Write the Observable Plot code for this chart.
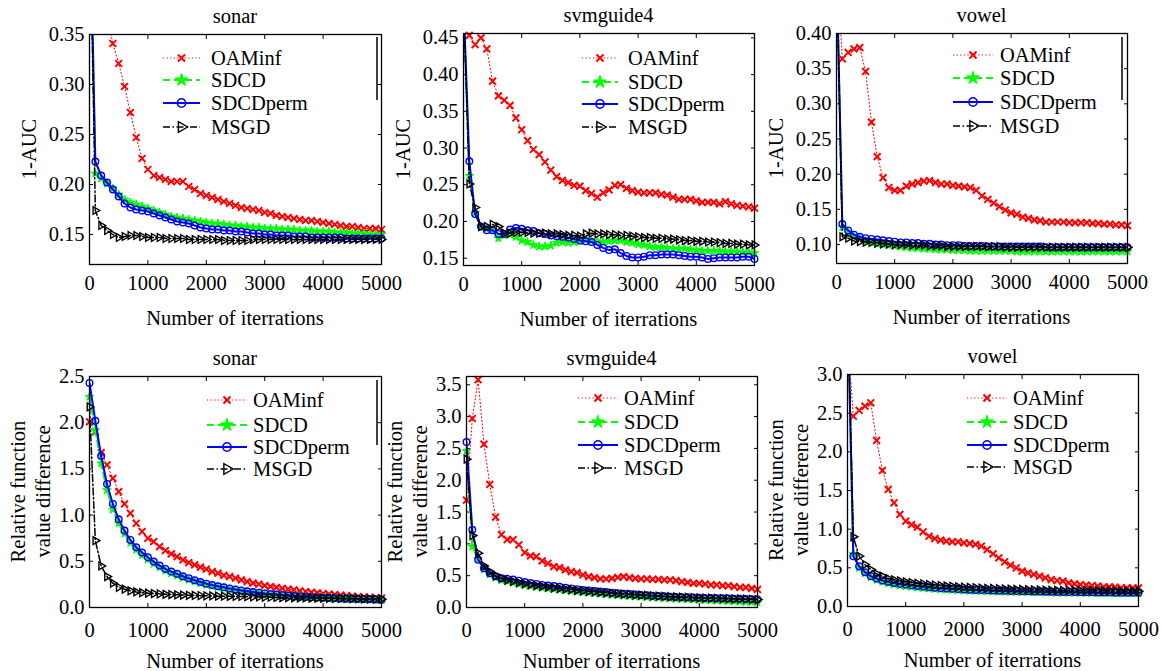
<!DOCTYPE html>
<html>
<head>
<meta charset="utf-8">
<script src="https://cdn.jsdelivr.net/npm/d3@7"></script>
<script src="https://cdn.jsdelivr.net/npm/@observablehq/plot@0.6"></script>
<style>
  html, body { margin: 0; padding: 0; background: #ffffff; }
  #root { position: relative; width: 1161px; height: 671px; overflow: hidden; background: #ffffff; }
</style>
</head>
<body>
<div id="root"></div>
<script>
// ---------------- data ----------------
const iterations = [0, 100, 200, 300, 400, 500, 600, 700, 800, 900, 1000,
  1100, 1200, 1300, 1400, 1500, 1600, 1700, 1800, 1900, 2000,
  2100, 2200, 2300, 2400, 2500, 2600, 2700, 2800, 2900, 3000,
  3100, 3200, 3300, 3400, 3500, 3600, 3700, 3800, 3900, 4000,
  4100, 4200, 4300, 4400, 4500, 4600, 4700, 4800, 4900, 5000];

const seriesNames = ["OAMinf", "SDCD", "SDCDperm", "MSGD"];
const panelTitles = ["sonar", "svmguide4", "vowel", "sonar", "svmguide4", "vowel"];
const yLabelTop = ["1-AUC"];
const yLabelBottom = ["Relative function", "value difference"];
const xLabel = "Number of iterrations";
const xTicks = [0, 1000, 2000, 3000, 4000, 5000];
const yTicksSonarAuc = [0.15, 0.20, 0.25, 0.30, 0.35];
const yTicksSvmAuc = [0.15, 0.20, 0.25, 0.30, 0.35, 0.40, 0.45];
const yTicksVowelAuc = [0.10, 0.15, 0.20, 0.25, 0.30, 0.35, 0.40];
const yTicksSonarRel = [0, 0.5, 1.0, 1.5, 2.0, 2.5];
const yTicksSvmRel = [0, 0.5, 1.0, 1.5, 2.0, 2.5, 3.0, 3.5];
const yTicksVowelRel = [0, 0.5, 1.0, 1.5, 2.0, 2.5, 3.0];

// sonar, 1-AUC
const sonarAucOAMinf = [0.50, 0.45, 0.40, 0.37, 0.341, 0.321, 0.298, 0.272, 0.247, 0.226, 0.215,
  0.209, 0.207, 0.205, 0.203, 0.203, 0.203, 0.198, 0.195, 0.191, 0.189,
  0.187, 0.185, 0.183, 0.181, 0.179, 0.177, 0.176, 0.175, 0.174, 0.172,
  0.171, 0.169, 0.168, 0.167, 0.166, 0.165, 0.164, 0.164, 0.163, 0.162,
  0.161, 0.160, 0.159, 0.158, 0.158, 0.157, 0.156, 0.156, 0.156, 0.155];
const sonarAucSDCD = [0.50, 0.211, 0.206, 0.201, 0.196, 0.190, 0.185, 0.182, 0.180, 0.178, 0.176,
  0.174, 0.172, 0.170, 0.168, 0.167, 0.166, 0.165, 0.164, 0.163, 0.162,
  0.161, 0.161, 0.160, 0.159, 0.159, 0.158, 0.158, 0.157, 0.157, 0.156,
  0.156, 0.156, 0.155, 0.155, 0.155, 0.154, 0.154, 0.154, 0.153, 0.153,
  0.153, 0.152, 0.152, 0.152, 0.151, 0.151, 0.151, 0.150, 0.150, 0.150];
const sonarAucSDCDperm = [0.50, 0.223, 0.209, 0.202, 0.195, 0.188, 0.181, 0.177, 0.175, 0.174, 0.173,
  0.171, 0.169, 0.167, 0.165, 0.163, 0.162, 0.161, 0.159, 0.157, 0.156,
  0.155, 0.155, 0.154, 0.154, 0.153, 0.153, 0.152, 0.151, 0.151, 0.150,
  0.150, 0.149, 0.149, 0.149, 0.148, 0.148, 0.148, 0.147, 0.147, 0.147,
  0.147, 0.147, 0.147, 0.146, 0.146, 0.146, 0.146, 0.146, 0.146, 0.146];
const sonarAucMSGD = [0.50, 0.174, 0.159, 0.154, 0.150, 0.147, 0.148, 0.149, 0.149, 0.148, 0.147,
  0.147, 0.147, 0.146, 0.146, 0.146, 0.146, 0.145, 0.145, 0.145, 0.145,
  0.145, 0.145, 0.144, 0.144, 0.144, 0.144, 0.144, 0.145, 0.145, 0.145,
  0.145, 0.145, 0.145, 0.145, 0.145, 0.145, 0.145, 0.145, 0.145, 0.145,
  0.145, 0.145, 0.145, 0.145, 0.145, 0.145, 0.145, 0.145, 0.145, 0.145];

// svmguide4, 1-AUC
const svmAucOAMinf = [0.50, 0.4535, 0.441, 0.450, 0.435, 0.391, 0.371, 0.365, 0.358, 0.341, 0.325,
  0.310, 0.298, 0.291, 0.281, 0.270, 0.261, 0.256, 0.253, 0.249, 0.248,
  0.242, 0.238, 0.233, 0.239, 0.243, 0.249, 0.250, 0.245, 0.242, 0.240,
  0.239, 0.239, 0.239, 0.237, 0.236, 0.233, 0.230, 0.230, 0.230, 0.228,
  0.226, 0.226, 0.226, 0.224, 0.227, 0.224, 0.222, 0.221, 0.220, 0.218];
const svmAucSDCD = [0.50, 0.262, 0.212, 0.193, 0.190, 0.188, 0.177, 0.181, 0.182, 0.179, 0.174,
  0.172, 0.168, 0.166, 0.166, 0.167, 0.171, 0.172, 0.171, 0.172, 0.173,
  0.175, 0.174, 0.173, 0.172, 0.173, 0.174, 0.174, 0.172, 0.171, 0.169,
  0.168, 0.166, 0.165, 0.165, 0.164, 0.163, 0.163, 0.163, 0.162, 0.161,
  0.160, 0.160, 0.160, 0.160, 0.159, 0.159, 0.159, 0.158, 0.158, 0.157];
const svmAucSDCDperm = [0.50, 0.282, 0.210, 0.193, 0.188, 0.188, 0.183, 0.183, 0.189, 0.191, 0.190,
  0.188, 0.187, 0.184, 0.183, 0.181, 0.180, 0.179, 0.178, 0.176, 0.174,
  0.173, 0.172, 0.168, 0.164, 0.161, 0.162, 0.157, 0.153, 0.151, 0.151,
  0.152, 0.154, 0.154, 0.155, 0.155, 0.155, 0.154, 0.153, 0.152, 0.152,
  0.151, 0.149, 0.150, 0.151, 0.151, 0.151, 0.151, 0.152, 0.152, 0.149];
const svmAucMSGD = [0.50, 0.251, 0.219, 0.193, 0.193, 0.196, 0.193, 0.184, 0.184, 0.185, 0.185,
  0.185, 0.184, 0.184, 0.184, 0.183, 0.183, 0.182, 0.181, 0.181, 0.180,
  0.183, 0.184, 0.183, 0.183, 0.182, 0.182, 0.181, 0.181, 0.180, 0.179,
  0.178, 0.178, 0.177, 0.177, 0.176, 0.176, 0.175, 0.174, 0.174, 0.173,
  0.173, 0.172, 0.172, 0.171, 0.170, 0.170, 0.169, 0.169, 0.168, 0.168];

// vowel, 1-AUC
const vowelAucOAMinf = [0.50, 0.364, 0.373, 0.378, 0.380, 0.346, 0.274, 0.225, 0.195, 0.181, 0.177,
  0.177, 0.183, 0.186, 0.188, 0.190, 0.191, 0.188, 0.186, 0.186, 0.184,
  0.183, 0.182, 0.181, 0.177, 0.169, 0.164, 0.159, 0.154, 0.149, 0.145,
  0.143, 0.139, 0.137, 0.135, 0.134, 0.132, 0.132, 0.132, 0.132, 0.131,
  0.131, 0.131, 0.131, 0.130, 0.130, 0.129, 0.129, 0.128, 0.128, 0.127];
const vowelAucSDCD = [0.50, 0.125, 0.117, 0.111, 0.108, 0.105, 0.103, 0.101, 0.100, 0.099, 0.098,
  0.097, 0.096, 0.095, 0.095, 0.094, 0.094, 0.093, 0.093, 0.093, 0.092,
  0.092, 0.092, 0.091, 0.091, 0.091, 0.091, 0.091, 0.091, 0.091, 0.091,
  0.090, 0.090, 0.090, 0.090, 0.090, 0.090, 0.090, 0.090, 0.090, 0.090,
  0.090, 0.090, 0.090, 0.090, 0.090, 0.090, 0.090, 0.090, 0.090, 0.090];
const vowelAucSDCDperm = [0.50, 0.129, 0.120, 0.114, 0.111, 0.109, 0.108, 0.107, 0.106, 0.105, 0.104,
  0.103, 0.103, 0.102, 0.102, 0.101, 0.101, 0.100, 0.100, 0.099, 0.099,
  0.099, 0.098, 0.098, 0.098, 0.098, 0.097, 0.097, 0.097, 0.097, 0.097,
  0.097, 0.097, 0.097, 0.097, 0.097, 0.096, 0.096, 0.096, 0.096, 0.096,
  0.096, 0.096, 0.096, 0.096, 0.096, 0.096, 0.096, 0.096, 0.096, 0.096];
const vowelAucMSGD = [0.50, 0.111, 0.109, 0.105, 0.104, 0.1035, 0.103, 0.102, 0.101, 0.101, 0.100,
  0.100, 0.100, 0.099, 0.099, 0.099, 0.098, 0.098, 0.098, 0.097, 0.097,
  0.097, 0.097, 0.097, 0.097, 0.097, 0.097, 0.097, 0.097, 0.096, 0.096,
  0.096, 0.096, 0.096, 0.096, 0.096, 0.096, 0.096, 0.096, 0.096, 0.096,
  0.096, 0.096, 0.096, 0.096, 0.096, 0.096, 0.096, 0.096, 0.096, 0.096];

// sonar, relative function value difference
const sonarRelOAMinf = [2.01, 1.90, 1.676, 1.543, 1.398, 1.254, 1.121, 1.02, 0.911, 0.822, 0.749,
  0.714, 0.659, 0.616, 0.580, 0.551, 0.515, 0.486, 0.461, 0.436, 0.414,
  0.389, 0.371, 0.349, 0.335, 0.317, 0.299, 0.281, 0.263, 0.252, 0.238,
  0.227, 0.218, 0.208, 0.198, 0.190, 0.181, 0.173, 0.165, 0.158, 0.151,
  0.145, 0.139, 0.133, 0.128, 0.123, 0.118, 0.114, 0.110, 0.106, 0.102];
const sonarRelSDCD = [2.28, 1.92, 1.56, 1.27, 1.06, 0.91, 0.80, 0.70, 0.625, 0.567, 0.518,
  0.473, 0.434, 0.399, 0.370, 0.346, 0.322, 0.301, 0.281, 0.263, 0.246,
  0.232, 0.219, 0.207, 0.196, 0.186, 0.177, 0.168, 0.160, 0.153, 0.146,
  0.140, 0.134, 0.129, 0.124, 0.120, 0.116, 0.112, 0.108, 0.105, 0.102,
  0.099, 0.097, 0.095, 0.093, 0.091, 0.089, 0.087, 0.086, 0.084, 0.083];
const sonarRelSDCDperm = [2.43, 2.02, 1.64, 1.337, 1.121, 0.955, 0.832, 0.731, 0.652, 0.595, 0.544,
  0.497, 0.454, 0.418, 0.389, 0.364, 0.338, 0.317, 0.295, 0.276, 0.258,
  0.243, 0.230, 0.218, 0.206, 0.195, 0.185, 0.176, 0.168, 0.160, 0.152,
  0.146, 0.140, 0.134, 0.129, 0.124, 0.120, 0.116, 0.112, 0.109, 0.106,
  0.103, 0.100, 0.098, 0.096, 0.094, 0.092, 0.090, 0.088, 0.087, 0.085];
const sonarRelMSGD = [2.17, 0.724, 0.45, 0.335, 0.263, 0.219, 0.198, 0.180, 0.168, 0.160, 0.155,
  0.151, 0.147, 0.143, 0.140, 0.137, 0.135, 0.132, 0.130, 0.128, 0.126,
  0.125, 0.123, 0.122, 0.121, 0.120, 0.119, 0.117, 0.115, 0.114, 0.112,
  0.111, 0.110, 0.108, 0.107, 0.105, 0.104, 0.103, 0.102, 0.102, 0.101,
  0.100, 0.099, 0.098, 0.098, 0.097, 0.095, 0.094, 0.092, 0.091, 0.090];

// svmguide4, relative function value difference
const svmRelOAMinf = [1.686, 2.97, 3.58, 2.566, 1.934, 1.422, 1.144, 1.065, 1.065, 0.986, 0.864,
  0.812, 0.800, 0.733, 0.695, 0.643, 0.627, 0.591, 0.564, 0.548, 0.512,
  0.485, 0.469, 0.449, 0.449, 0.458, 0.474, 0.485, 0.469, 0.458, 0.449,
  0.449, 0.442, 0.442, 0.433, 0.433, 0.422, 0.406, 0.395, 0.379, 0.379,
  0.370, 0.354, 0.354, 0.343, 0.343, 0.327, 0.316, 0.316, 0.300, 0.284];
const svmRelSDCD = [2.46, 0.959, 0.758, 0.60, 0.52, 0.47, 0.43, 0.41, 0.39, 0.37, 0.355,
  0.34, 0.325, 0.31, 0.30, 0.29, 0.28, 0.27, 0.26, 0.25, 0.24,
  0.232, 0.224, 0.216, 0.208, 0.200, 0.193, 0.186, 0.180, 0.174, 0.168,
  0.162, 0.157, 0.152, 0.147, 0.142, 0.138, 0.134, 0.130, 0.126, 0.122,
  0.118, 0.114, 0.110, 0.106, 0.102, 0.098, 0.094, 0.090, 0.086, 0.082];
const svmRelSDCDperm = [2.60, 1.22, 0.749, 0.616, 0.537, 0.49, 0.46, 0.45, 0.44, 0.422, 0.40,
  0.385, 0.37, 0.355, 0.345, 0.338, 0.325, 0.312, 0.30, 0.288, 0.275,
  0.266, 0.258, 0.25, 0.242, 0.232, 0.225, 0.218, 0.211, 0.205, 0.196,
  0.191, 0.186, 0.181, 0.176, 0.169, 0.166, 0.163, 0.160, 0.157, 0.153,
  0.151, 0.149, 0.147, 0.145, 0.142, 0.139, 0.136, 0.133, 0.130, 0.127];
const svmRelMSGD = [2.33, 1.13, 0.853, 0.654, 0.564, 0.496, 0.46, 0.43, 0.41, 0.39, 0.37,
  0.357, 0.344, 0.332, 0.32, 0.31, 0.30, 0.29, 0.28, 0.27, 0.26,
  0.252, 0.245, 0.238, 0.231, 0.224, 0.218, 0.212, 0.206, 0.200, 0.194,
  0.189, 0.184, 0.179, 0.174, 0.170, 0.166, 0.162, 0.158, 0.155, 0.152,
  0.149, 0.146, 0.143, 0.141, 0.139, 0.136, 0.134, 0.131, 0.128, 0.125];

// vowel, relative function value difference
const vowelRelOAMinf = [3.5, 2.461, 2.535, 2.59, 2.634, 2.147, 1.759, 1.513, 1.341, 1.19, 1.103,
  1.06, 1.026, 0.966, 0.909, 0.879, 0.858, 0.845, 0.837, 0.837, 0.824,
  0.815, 0.802, 0.780, 0.737, 0.681, 0.629, 0.578, 0.534, 0.500, 0.457,
  0.435, 0.414, 0.392, 0.371, 0.349, 0.336, 0.328, 0.306, 0.293, 0.284,
  0.276, 0.271, 0.263, 0.254, 0.254, 0.250, 0.241, 0.241, 0.241, 0.241];
const vowelRelSDCD = [4.0, 0.68, 0.50, 0.43, 0.38, 0.345, 0.32, 0.30, 0.285, 0.272, 0.262,
  0.254, 0.246, 0.239, 0.233, 0.227, 0.222, 0.218, 0.214, 0.210, 0.207,
  0.204, 0.201, 0.199, 0.197, 0.195, 0.193, 0.191, 0.189, 0.188, 0.186,
  0.185, 0.184, 0.183, 0.182, 0.181, 0.180, 0.179, 0.178, 0.177, 0.176,
  0.175, 0.175, 0.174, 0.173, 0.173, 0.172, 0.172, 0.171, 0.171, 0.170];
const vowelRelSDCDperm = [4.0, 0.651, 0.521, 0.444, 0.392, 0.362, 0.336, 0.320, 0.305, 0.293, 0.284,
  0.274, 0.266, 0.258, 0.250, 0.241, 0.237, 0.233, 0.229, 0.225, 0.220,
  0.217, 0.214, 0.212, 0.210, 0.207, 0.205, 0.203, 0.201, 0.200, 0.198,
  0.197, 0.195, 0.193, 0.192, 0.190, 0.189, 0.188, 0.187, 0.186, 0.185,
  0.184, 0.183, 0.182, 0.181, 0.180, 0.179, 0.179, 0.178, 0.178, 0.177];
const vowelRelMSGD = [4.0, 0.901, 0.651, 0.543, 0.478, 0.422, 0.392, 0.362, 0.345, 0.330, 0.319,
  0.309, 0.300, 0.292, 0.284, 0.276, 0.271, 0.266, 0.261, 0.255, 0.250,
  0.246, 0.243, 0.239, 0.236, 0.233, 0.230, 0.227, 0.225, 0.222, 0.220,
  0.218, 0.216, 0.214, 0.212, 0.210, 0.209, 0.208, 0.208, 0.207, 0.207,
  0.206, 0.205, 0.204, 0.203, 0.202, 0.201, 0.200, 0.199, 0.199, 0.198];

// ---------------- styling / layout ----------------
const FONT = "Liberation Serif, Times New Roman, serif";
const FS = 20.5;

const styles = {
  OAMinf:   {color: "#ff0000", lw: 1,   dash: "1.2,2.4",       symbol: "times",    d3sym: d3.symbolTimes,    r: 3.2, lr: 3.3, fill: "none",    sw: 2,   rotate: 0},
  SDCD:     {color: "#00ff00", lw: 2,   dash: "7,4",           symbol: "star",     d3sym: d3.symbolStar,     r: 2.7, lr: 4.0, fill: "#00ff00", sw: 1,   rotate: 0},
  SDCDperm: {color: "#0000ff", lw: 2,   dash: null,            symbol: "circle",   d3sym: d3.symbolCircle,   r: 3.3, lr: 4.2, fill: "none",    sw: 1.4, rotate: 0},
  MSGD:     {color: "#000000", lw: 1.5, dash: "7,2.5,1.5,2.5", symbol: "triangle", d3sym: d3.symbolTriangle, r: 2.9, lr: 4.0, fill: "none",    sw: 1.4, rotate: 90}
};

const panels = [
  {title: panelTitles[0], yLabel: yLabelTop, yDomain: [0.12, 0.35], yTicks: yTicksSonarAuc, fmt: ".2f",
   series: [sonarAucOAMinf, sonarAucSDCD, sonarAucSDCDperm, sonarAucMSGD],
   box: {L: 89, R: 381, T: 34, B: 264, svgRight: 408}, tickPad: 11,
   legend: {x0: 163, x1: 200, tx: 211, rows: [58, 80, 103, 127]}, edge: {x: 377, y0: 37, y1: 100}},
  {title: panelTitles[1], yLabel: yLabelTop, yDomain: [0.14, 0.456], yTicks: yTicksSvmAuc, fmt: ".2f",
   series: [svmAucOAMinf, svmAucSDCD, svmAucSDCDperm, svmAucMSGD],
   box: {L: 463, R: 754, T: 33, B: 265, svgRight: 782}, tickPad: 11,
   legend: {x0: 582, x1: 618, tx: 628, rows: [58, 82, 104, 127]}, edge: null},
  {title: panelTitles[2], yLabel: yLabelTop, yDomain: [0.073, 0.40], yTicks: yTicksVowelAuc, fmt: ".2f",
   series: [vowelAucOAMinf, vowelAucSDCD, vowelAucSDCDperm, vowelAucMSGD],
   box: {L: 836, R: 1127, T: 33, B: 263, svgRight: 1161}, tickPad: 11,
   legend: {x0: 953, x1: 993, tx: 1000, rows: [55, 78, 102, 126]}, edge: {x: 1122, y0: 37, y1: 100}},
  {title: panelTitles[3], yLabel: yLabelBottom, yDomain: [0, 2.5], yTicks: yTicksSonarRel, fmt: ".1f",
   series: [sonarRelOAMinf, sonarRelSDCD, sonarRelSDCDperm, sonarRelMSGD],
   box: {L: 89, R: 381, T: 376, B: 607, svgRight: 408}, tickPad: 15,
   legend: {x0: 207, x1: 247, tx: 253, rows: [400, 425, 447, 469]}, edge: {x: 377, y0: 380, y1: 445}},
  {title: panelTitles[4], yLabel: yLabelBottom, yDomain: [0, 3.63], yTicks: yTicksSvmRel, fmt: ".1f",
   series: [svmRelOAMinf, svmRelSDCD, svmRelSDCDperm, svmRelMSGD],
   box: {L: 466, R: 757, T: 376, B: 607, svgRight: 785}, tickPad: 15,
   legend: {x0: 578, x1: 618, tx: 624, rows: [398, 422, 445, 468]}, edge: null},
  {title: panelTitles[5], yLabel: yLabelBottom, yDomain: [0, 3.0], yTicks: yTicksVowelRel, fmt: ".1f",
   series: [vowelRelOAMinf, vowelRelSDCD, vowelRelSDCDperm, vowelRelMSGD],
   box: {L: 847, R: 1138, T: 374, B: 606, svgRight: 1161}, tickPad: 15,
   legend: {x0: 967, x1: 1007, tx: 1013, rows: [398, 422, 445, 467]}, edge: null}
];

// ---------------- drawing ----------------
const root = document.getElementById("root");

panels.forEach(p => {
  const b = p.box;
  const mL = 89, mT = 34, mB = 66;
  const left = b.L - mL, top = b.T - mT;
  const width = b.svgRight - left;
  const height = (b.B - b.T) + mT + mB;
  const mR = b.svgRight - b.R;
  const [y0, y1] = p.yDomain;
  const textOpts = {fontFamily: FONT, fontSize: FS, fill: "black", label: null};

  const marks = [
    Plot.axisX(xTicks, {anchor: "bottom", tickSize: -4, fill: "none", strokeWidth: 1}),
    Plot.axisX(xTicks, {anchor: "top", tickSize: -4, fill: "none", strokeWidth: 1}),
    Plot.axisY(p.yTicks, {anchor: "left", tickSize: -4, fill: "none", strokeWidth: 1}),
    Plot.axisY(p.yTicks, {anchor: "right", tickSize: -4, fill: "none", strokeWidth: 1}),
    Plot.axisX(xTicks, {anchor: "bottom", tickSize: 0, tickPadding: p.tickPad, tickFormat: d => String(d), ...textOpts}),
    Plot.axisY(p.yTicks, {anchor: "left", tickSize: 0, tickPadding: 5, tickFormat: d3.format(p.fmt), ...textOpts})
  ];

  seriesNames.forEach((name, i) => {
    const st = styles[name];
    const vals = p.series[i];
    const rows = iterations.map((it, k) => ({iter: it, value: vals[k], series: name}));
    const visible = rows.filter(r => r.value >= y0 && r.value <= y1);
    marks.push(Plot.line(rows, {x: "iter", y: "value", stroke: st.color, strokeWidth: st.lw,
      strokeDasharray: st.dash || undefined, clip: true}));
    marks.push(Plot.dot(visible, {x: "iter", y: "value", symbol: st.symbol, r: st.r, stroke: st.color,
      fill: st.fill, strokeWidth: st.sw, rotate: st.rotate}));
  });

  marks.push(Plot.frame({stroke: "black", strokeWidth: 1.3}));

  const svg = Plot.plot({
    width, height,
    marginLeft: mL, marginRight: mR, marginTop: mT, marginBottom: mB,
    x: {domain: [0, 5000]},
    y: {domain: p.yDomain},
    style: {fontFamily: FONT, fontSize: FS + "px", background: "transparent", color: "black"},
    marks
  });
  svg.style.position = "absolute";
  svg.style.left = left + "px";
  svg.style.top = top + "px";
  svg.style.maxWidth = "none";
  svg.style.overflow = "visible";
  root.appendChild(svg);
});

// annotations: titles, axis labels, legends
const overlay = d3.select(root).append("svg")
  .attr("width", 1161).attr("height", 671)
  .style("position", "absolute").style("left", "0px").style("top", "0px")
  .style("pointer-events", "none")
  .style("font-family", FONT).style("font-size", FS + "px");

panels.forEach(p => {
  const b = p.box;
  const cx = (b.L + b.R) / 2, cy = (b.T + b.B) / 2;
  overlay.append("text").attr("x", cx).attr("y", b.T - 10.7).attr("text-anchor", "middle").attr("fill", "black").text(p.title);
  overlay.append("text").attr("x", cx).attr("y", b.B + 61).attr("text-anchor", "middle").attr("fill", "black").text(xLabel);
  const offs = p.yLabel.length === 1 ? [60] : [71, 46.5];
  p.yLabel.forEach((t, i) => {
    overlay.append("text")
      .attr("transform", `translate(${b.L - offs[i] + 7},${cy}) rotate(-90)`)
      .attr("text-anchor", "middle").attr("fill", "black").text(t);
  });

  const lg = p.legend;
  seriesNames.forEach((name, i) => {
    const st = styles[name];
    const y = lg.rows[i];
    overlay.append("line").attr("x1", lg.x0).attr("x2", lg.x1).attr("y1", y).attr("y2", y)
      .attr("stroke", st.color).attr("stroke-width", st.lw)
      .attr("stroke-dasharray", st.dash || null);
    const mx = (lg.x0 + lg.x1) / 2;
    overlay.append("path")
      .attr("d", d3.symbol(st.d3sym, Math.PI * st.lr * st.lr)())
      .attr("transform", `translate(${mx},${y}) rotate(${st.rotate})`)
      .attr("fill", st.fill).attr("stroke", st.color).attr("stroke-width", st.sw);
    overlay.append("text").attr("x", lg.tx).attr("y", y).attr("dy", "0.35em").attr("fill", "black").text(name);
  });
  if (p.edge) {
    overlay.append("line").attr("x1", p.edge.x).attr("x2", p.edge.x).attr("y1", p.edge.y0).attr("y2", p.edge.y1)
      .attr("stroke", "black").attr("stroke-width", 1.5);
  }
});
</script>
</body>
</html>
